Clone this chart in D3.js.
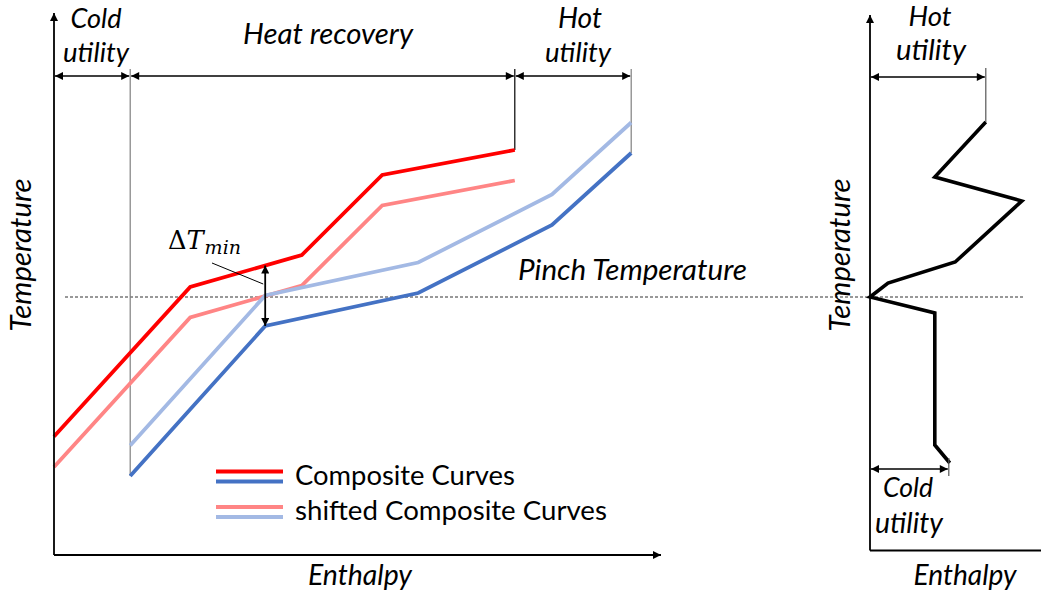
<!DOCTYPE html>
<html><head><meta charset="utf-8">
<script src="https://cdn.jsdelivr.net/npm/d3@7"></script>
<style>body{margin:0;background:#fff} svg{display:block}</style>
</head><body>
<svg id="c" width="1041" height="594"></svg>
<script>
// ---- data (enthalpy, temperature) ----
const hotH  = [0, 22.7, 41.3, 54.7, 76.8];
const hotT  = [23.7, 53.6, 60.0, 76.0, 81.0];
const coldH = [12.7, 35.2, 60.7, 83.0, 96.2];
const coldT = [15.8, 45.8, 52.4, 66.0, 80.4];
const shiftT = 6.1;              // ΔTmin / 2
const pinchT = 51.6;             // shifted pinch temperature
const pinchH = 35.2;             // enthalpy where ΔTmin occurs
const gccH = [19.3, 10.8, 25.3, 14.2, 3.0, 0, 10.8, 10.8, 13.3];
const gccT = [86.6, 75.6, 70.8, 58.6, 54.4, 51.6, 48.4, 22.0, 18.4];
const legendLabels = ["Composite Curves", "shifted Composite Curves"];
const regionLabels = [["Cold","utility"], ["Heat recovery"], ["Hot","utility"]];

const C = {red:"#ff0000", lred:"#ff8585", blue:"#4472c4", lblue:"#a3b9e4"};
const svg = d3.select("#c");
const x  = d3.scaleLinear().domain([0,100]).range([54,654]);
const y  = d3.scaleLinear().domain([0,100]).range([555,55]);
const xr = d3.scaleLinear().domain([0,30]).range([870,1050]);
const FONT = "Lato, 'Open Sans', sans-serif";

const defs = svg.append("defs");
function marker(id, orient){
  defs.append("marker").attr("id",id).attr("viewBox","0 0 10 10")
    .attr("refX",10).attr("refY",5).attr("markerWidth",9).attr("markerHeight",8)
    .attr("markerUnits","userSpaceOnUse").attr("orient",orient)
    .append("path").attr("d","M0,0 L10,5 L0,10 Z").attr("fill","#000");
}
marker("ah","auto"); marker("ahs","auto-start-reverse");

function fit(sel, w){
  const l = sel.node().getComputedTextLength();
  sel.attr("font-size", parseFloat(sel.attr("font-size"))*w/l);
  return sel;
}
function label(txt, cx, base, w, opts={}){
  const t = svg.append("text").text(txt).attr("x",cx).attr("y",base)
    .attr("font-family",FONT).attr("font-size",24)
    .attr("font-style", opts.upright ? "normal" : "italic")
    .attr("text-anchor", opts.anchor || "middle").attr("fill","#000");
  if (opts.rotate) t.attr("transform",`rotate(-90,${cx},${base})`);
  return fit(t, w);
}

// ---- pinch dashed line ----
svg.append("line").attr("x1",65).attr("x2",1025).attr("y1",y(pinchT)).attr("y2",y(pinchT))
  .attr("stroke","#333").attr("stroke-width",1).attr("stroke-dasharray","3,2");

// ---- boundary tick lines ----
const tickTop = 69;
const vt = (xx, y2, col) => svg.append("line").attr("x1",xx).attr("x2",xx)
  .attr("y1",tickTop).attr("y2",y2).attr("stroke",col).attr("stroke-width",1.2);
vt(x(coldH[0]), y(coldT[0]), "#7f7f7f");
vt(x(hotH[hotH.length-1]), y(hotT[hotT.length-1]), "#000");
vt(x(coldH[coldH.length-1]), y(coldT[coldT.length-1]), "#7f7f7f");

// ---- curves ----
const line = d3.line().x(d=>x(d[0])).y(d=>y(d[1]));
const pts = (H,T,dt) => H.map((h,i)=>[h, T[i]+dt]);
const curve = (d,col) => svg.append("path").attr("d",line(d)).attr("fill","none")
  .attr("stroke",col).attr("stroke-width",3.8).attr("stroke-linejoin","miter");
curve(pts(hotH,hotT,-shiftT), C.lred);
curve(pts(coldH,coldT,shiftT), C.lblue);
curve(pts(hotH,hotT,0), C.red);
curve(pts(coldH,coldT,0), C.blue);

// ---- axes ----
svg.append("path").attr("d",`M${x(0)},${y(0)} L${x(0)},13`).attr("stroke","#000")
  .attr("stroke-width",1.8).attr("fill","none").attr("marker-end","url(#ah)");
svg.append("path").attr("d",`M${x(0)},${y(0)} L661,${y(0)}`).attr("stroke","#000")
  .attr("stroke-width",1.8).attr("fill","none").attr("marker-end","url(#ah)");

// ---- double arrows for region widths ----
const dbl = (x1,x2,yy) => svg.append("line").attr("x1",x1).attr("x2",x2).attr("y1",yy).attr("y2",yy)
  .attr("stroke","#000").attr("stroke-width",1.5)
  .attr("marker-start","url(#ahs)").attr("marker-end","url(#ah)");
const bounds = [x(0), x(coldH[0]), x(hotH[hotH.length-1]), x(coldH[coldH.length-1])];
for (let i=0;i<3;i++) dbl(bounds[i]+1, bounds[i+1]-1, 76);

// ---- ΔTmin arrow ----
const hotAtPinch = d3.scaleLinear().domain(hotH).range(hotT)(pinchH);
const coldAtPinch = d3.scaleLinear().domain(coldH).range(coldT)(pinchH);
svg.append("line").attr("x1",x(pinchH)).attr("x2",x(pinchH))
  .attr("y1",y(hotAtPinch)).attr("y2",y(coldAtPinch))
  .attr("stroke","#000").attr("stroke-width",1.8)
  .attr("marker-start","url(#ahs)").attr("marker-end","url(#ah)");
svg.append("line").attr("x1",212).attr("y1",263).attr("x2",x(pinchH)-2).attr("y2",284)
  .attr("stroke","#000").attr("stroke-width",1);
const dt = svg.append("text").attr("x",168).attr("y",249)
  .attr("font-family","'DejaVu Serif', 'Liberation Serif', serif").attr("font-size",22);
dt.append("tspan").text("Δ");
dt.append("tspan").text("T").attr("font-style","italic");
dt.append("tspan").text("min").attr("font-style","italic").attr("font-size",19).attr("dy",5).attr("dx",1);
fit(dt, 78);

// ---- region labels ----
label(regionLabels[0][0], 96, 28, 51);
label(regionLabels[0][1], 96, 62, 66);
label(regionLabels[1][0], 328, 44, 170);
label(regionLabels[2][0], 580, 28, 44);
label(regionLabels[2][1], 578, 62, 66);

label("Pinch Temperature", 518, 280, 229, {anchor:"start"});
label("Temperature", 31, 255, 153, {rotate:true});
label("Enthalpy", 360, 585, 104);

// ---- legend ----
const legColors = [[C.red,C.blue],[C.lred,C.lblue]];
legendLabels.forEach((lab,i)=>{
  const y0 = 471.5 + i*35.5;
  legColors[i].forEach((col,j)=>svg.append("line").attr("x1",216).attr("x2",283)
    .attr("y1",y0+j*10).attr("y2",y0+j*10).attr("stroke",col).attr("stroke-width",3.8));
  label(lab, 295, y0+13, i===0?220:312, {anchor:"start", upright:true});
});

// ---- right panel: grand composite curve ----
const ry0 = 550.5;
svg.append("path").attr("d",`M${xr(0)},${ry0} L${xr(0)},15`).attr("stroke","#000")
  .attr("stroke-width",1.8).attr("fill","none").attr("marker-end","url(#ah)");
svg.append("line").attr("x1",xr(0)).attr("x2",1045).attr("y1",ry0).attr("y2",ry0)
  .attr("stroke","#000").attr("stroke-width",1.8);
const gl = d3.line().x(d=>xr(d[0])).y(d=>y(d[1]));
svg.append("path").attr("d",gl(gccH.map((h,i)=>[h,gccT[i]]))).attr("fill","none")
  .attr("stroke","#000").attr("stroke-width",3.6).attr("stroke-linejoin","miter");
const gTop = [gccH[0], gccT[0]], gBot = [gccH[gccH.length-1], gccT[gccT.length-1]];
svg.append("line").attr("x1",xr(gTop[0])).attr("x2",xr(gTop[0])).attr("y1",68).attr("y2",y(gTop[1]))
  .attr("stroke","#555").attr("stroke-width",1.2);
svg.append("line").attr("x1",xr(gBot[0])-1).attr("x2",xr(gBot[0])-1).attr("y1",458).attr("y2",476)
  .attr("stroke","#555").attr("stroke-width",1.2);
dbl(xr(0)+1, xr(gTop[0])-1, 77);
dbl(xr(0)+1, xr(gBot[0])-2, 469);

label("Hot", 930, 26, 43);
label("utility", 931, 60, 70);
label("Cold", 908, 497, 50);
label("utility", 909, 533, 68);
label("Temperature", 850, 255, 153, {rotate:true});
label("Enthalpy", 965, 585, 103);
</script>
</body></html>
